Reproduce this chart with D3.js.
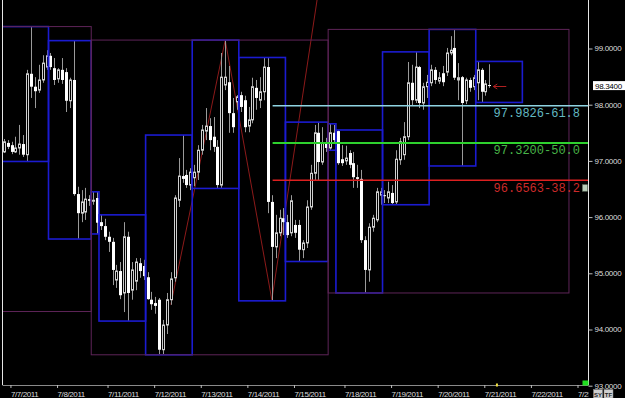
<!DOCTYPE html>
<html>
<head>
<meta charset="utf-8">
<script src="https://cdn.jsdelivr.net/npm/d3@7"></script>
<style>
body { margin: 0; background: #000; overflow: hidden; }
svg { display: block; }
</style>
</head>
<body>
<div id="chart"></div>
<script>
var width = 625;
var height = 398;

// trading days on the chart and how many 2-hour bars each one holds
var days = ["7/7/2011", "7/8/2011", "7/10/2011", "7/11/2011", "7/12/2011", "7/13/2011", "7/14/2011",
            "7/15/2011", "7/17/2011", "7/18/2011", "7/19/2011", "7/20/2011", "7/21/2011", "7/22/2011", "7/25/2011"];
var barsPerDay = [12, 11, 2, 12, 12, 12, 12, 11, 2, 12, 12, 12, 12, 12, 12];

// candles, one row per day
var open = [
  97.16, 97.32, 97.28, 97.16, 97.23, 97.30, 97.11, 98.55, 98.32, 98.26, 98.44, 98.67,
  98.87, 98.65, 98.46, 98.62, 98.58, 98.07, 98.44, 96.41, 96.07, 96.09, 96.32,
  96.29, 96.34,
  95.91, 95.84, 95.65, 95.56, 94.88, 95.04, 94.65, 95.65, 94.70, 94.86, 95.18, 95.13,
  94.93, 94.53, 94.47, 94.53, 93.64, 94.08, 94.53, 94.92, 96.30, 96.73, 96.75, 96.57,
  96.70, 96.80, 97.19, 97.53, 97.62, 97.43, 97.25, 96.57, 98.35, 98.40, 97.85, 98.05,
  98.17, 98.08, 97.62, 97.73, 98.30, 98.08, 98.23, 98.67, 96.27, 95.47, 95.72, 95.98,
  95.91, 95.72, 95.86, 95.86, 95.42, 95.54, 96.18, 96.78, 97.50, 96.98, 97.32,
  97.23, 97.50,
  97.53, 97.03, 97.00, 97.14, 96.96, 96.71, 96.68, 95.59, 95.06, 95.82, 95.95, 96.39,
  96.39, 96.34, 96.43, 96.27, 97.02, 97.11, 97.43, 98.39, 98.08, 98.67, 98.03, 98.32,
  98.39, 98.62, 98.42, 98.56, 98.58, 98.92, 99.01, 98.44, 98.49, 98.07, 98.44, 98.32,
  98.39, 98.62, 98.23, 98.35
];
var high = [
  97.39, 97.37, 97.34, 97.43, 97.64, 97.46, 98.62, 99.39, 98.49, 98.71, 98.88, 98.97,
  98.92, 98.83, 98.65, 98.83, 98.65, 98.48, 99.14, 96.54, 96.48, 96.52, 96.39,
  96.45, 96.45,
  96.04, 95.97, 95.74, 95.63, 95.15, 95.20, 95.91, 95.74, 95.20, 95.27, 95.27, 95.24,
  95.02, 94.67, 94.58, 94.56, 94.17, 94.65, 95.02, 96.39, 97.05, 97.46, 96.84, 96.87,
  96.93, 97.28, 97.64, 97.94, 97.76, 97.78, 97.37, 98.92, 99.15, 98.69, 98.12, 98.17,
  98.23, 98.16, 97.96, 98.48, 98.44, 98.49, 98.84, 98.83, 96.39, 96.04, 96.13, 96.16,
  96.04, 96.39, 95.95, 95.95, 95.59, 96.30, 96.93, 97.64, 97.69, 97.60, 97.41,
  97.66, 97.64,
  97.55, 97.28, 97.27, 97.19, 97.16, 96.93, 96.84, 95.66, 95.89, 96.04, 96.52, 96.52,
  96.48, 96.63, 96.57, 97.19, 97.41, 97.69, 98.76, 98.71, 98.94, 98.69, 98.39, 98.53,
  98.71, 98.67, 98.58, 98.69, 99.01, 99.22, 99.34, 98.74, 98.51, 98.48, 98.48, 98.53,
  98.77, 98.65, 98.44, 98.72
];
var low = [
  97.14, 97.21, 97.12, 97.14, 97.11, 97.07, 96.99, 98.12, 97.94, 98.21, 98.39, 98.62,
  98.62, 98.35, 98.39, 98.37, 97.87, 97.94, 96.38, 95.61, 95.91, 95.95, 96.20,
  96.22, 95.70,
  95.77, 95.59, 95.38, 94.79, 94.74, 94.54, 94.31, 94.15, 94.53, 94.70, 94.92, 94.88,
  94.53, 94.35, 94.28, 93.55, 93.56, 93.92, 94.44, 94.85, 96.18, 96.61, 96.52, 96.48,
  96.55, 96.66, 97.11, 97.37, 97.19, 97.16, 96.51, 96.52, 98.26, 97.50, 97.50, 97.91,
  97.87, 97.51, 97.51, 97.67, 97.91, 97.94, 98.08, 96.07, 94.51, 95.27, 95.66, 95.68,
  95.63, 95.66, 95.63, 95.21, 95.27, 95.45, 96.13, 96.66, 96.66, 96.93, 97.16,
  97.19, 97.32,
  96.93, 96.91, 96.93, 96.87, 96.52, 96.52, 95.54, 94.65, 94.85, 95.74, 95.91, 96.22,
  96.25, 96.25, 96.22, 96.22, 96.93, 97.02, 97.37, 97.99, 98.03, 97.94, 97.91, 98.12,
  98.33, 98.37, 98.37, 98.33, 98.51, 98.88, 98.44, 98.08, 96.91, 98.01, 98.23, 98.26,
  98.08, 98.04, 98.16, 98.30
];
var close = [
  97.34, 97.25, 97.16, 97.23, 97.30, 97.11, 98.55, 98.32, 98.24, 98.44, 98.74, 98.87,
  98.67, 98.44, 98.62, 98.44, 98.07, 98.44, 96.41, 96.07, 96.27, 96.32, 96.29,
  96.30, 95.90,
  95.84, 95.65, 95.56, 95.06, 95.04, 94.61, 95.65, 94.65, 95.06, 95.20, 95.04, 94.95,
  94.54, 94.45, 94.42, 93.64, 94.08, 94.53, 94.90, 96.34, 96.73, 96.68, 96.57, 96.80,
  96.80, 97.19, 97.55, 97.62, 97.37, 97.25, 96.57, 98.49, 98.49, 97.85, 97.60, 98.14,
  97.96, 97.60, 97.73, 98.32, 98.12, 98.23, 98.67, 96.27, 95.47, 95.72, 95.98, 95.91,
  95.68, 96.29, 95.72, 95.42, 95.54, 96.18, 96.78, 97.50, 96.98, 97.32, 97.23,
  97.50, 97.37,
  96.96, 96.96, 97.05, 96.93, 96.71, 96.68, 95.59, 95.06, 95.82, 95.98, 96.45, 96.45,
  96.38, 96.45, 96.25, 97.03, 97.34, 97.43, 98.39, 98.08, 98.67, 98.03, 98.32, 98.40,
  98.62, 98.44, 98.48, 98.40, 98.92, 98.97, 98.48, 98.48, 98.03, 98.44, 98.30, 98.48,
  98.62, 98.23, 98.37, 98.34
];

var priceTicks = [99, 98, 97, 96, 95, 94, 93];
var lastPrice = 98.34;

// weekly ranges (the first week started before the visible window)
var weekFirstDay = ["7/4/2011", "7/10/2011", "7/17/2011"];
var weekHigh = [99.39, 99.15, 99.34];
var weekLow = [94.32, 93.55, 94.65];

// zigzag swing points (bar index, price); the last one runs off the top
var zigBars = [43, 57, 69, 84];
var zigPrices = [94.44, 99.15, 94.53, 101.4];

// fibonacci levels drawn from the 7/14 low
var fibLevels = [97.9826, 97.3200, 96.6563];
var fibLabels = ["97.9826-61.8", "97.3200-50.0", "96.6563-38.2"];
var fibColors = ["#8fd4e2", "#2ed12e", "#dd2020"];
var fibTextColors = ["#63b9c2", "#48b448", "#cc2a2a"];
var fibStartBar = 69;

var dayStart = [];
var acc = 0;
for (let k = 0; k < days.length; k++) {
    dayStart.push(acc);
    acc += barsPerDay[k];
}

var plotRight = 588.5;
var plotBottom = 385;

var x = d3.scaleLinear().domain([0, 150]).range([1.9, 1.9 + 150 * 3.884]);
var y = d3.scaleLinear().domain([93, 99]).range([385.7, 48.5]);

var svg = d3.select("#chart").append("svg")
    .attr("width", width).attr("height", height)
    .style("background", "#000");

var defs = svg.append("defs");
defs.append("clipPath").attr("id", "plot")
    .append("rect").attr("x", 3).attr("y", 0)
    .attr("width", plotRight - 3).attr("height", plotBottom);
defs.append("clipPath").attr("id", "dateclip")
    .append("rect").attr("x", 0).attr("y", -2).attr("width", plotRight).attr("height", 20);

var plot = svg.append("g").attr("clip-path", "url(#plot)");

// zigzag sits behind the candles
var zig = d3.line()
    .x(function (d, k) { return x(zigBars[k] + 0.5); })
    .y(function (d) { return y(d); });
plot.append("path")
    .attr("d", zig(zigPrices))
    .attr("fill", "none")
    .attr("stroke", "#8c1a1a")
    .attr("stroke-width", 1);

// candles
var bars = d3.range(open.length).map(function (i) {
    return { i: i, o: open[i], h: high[i], l: low[i], c: close[i] };
});
function cx(i) { return Math.round(x(i + 0.5)) + 0.5; }

var candle = plot.append("g").selectAll("g").data(bars).enter().append("g");
candle.append("line")
    .attr("x1", function (d) { return cx(d.i); })
    .attr("x2", function (d) { return cx(d.i); })
    .attr("y1", function (d) { return y(d.h); })
    .attr("y2", function (d) { return y(d.l); })
    .attr("stroke", "#9a9a9a")
    .attr("stroke-width", 1);
candle.append("rect")
    .attr("x", function (d) { return d.c >= d.o ? cx(d.i) - 1 : cx(d.i) - 1.5; })
    .attr("width", function (d) { return d.c >= d.o ? 2 : 3; })
    .attr("y", function (d) { return y(Math.max(d.o, d.c)); })
    .attr("height", function (d) { return Math.max(1, Math.abs(y(d.o) - y(d.c))); })
    .attr("fill", function (d) { return d.c >= d.o ? "#000" : "#fff"; })
    .attr("stroke", function (d) { return d.c >= d.o ? "#cfcfcf" : "none"; })
    .attr("stroke-width", 1);

// daily range boxes
var dayBoxes = [];
for (let k = 0; k < days.length; k++) {
    let first = dayStart[k];
    let last = Math.min(first + barsPerDay[k], open.length);
    if (first >= open.length) break;
    dayBoxes.push({
        start: first,
        end: first + barsPerDay[k],
        hi: d3.max(high.slice(first, last)),
        lo: d3.min(low.slice(first, last))
    });
}
plot.append("g").selectAll("rect").data(dayBoxes).enter().append("rect")
    .attr("x", function (d) { return x(d.start); })
    .attr("width", function (d) { return x(d.end) - x(d.start); })
    .attr("y", function (d) { return y(d.hi); })
    .attr("height", function (d) { return y(d.lo) - y(d.hi); })
    .attr("fill", "none")
    .attr("stroke", "#1b1bd0")
    .attr("stroke-width", 1.6);

// weekly range boxes
var weekBoxes = weekFirstDay.map(function (day, k) {
    let idx = days.indexOf(day);
    let start = idx < 0 ? -60 : dayStart[idx];
    let endIdx = k + 1 < weekFirstDay.length ? days.indexOf(weekFirstDay[k + 1]) : days.indexOf("7/25/2011");
    return { start: start, end: dayStart[endIdx], hi: weekHigh[k], lo: weekLow[k] };
});
plot.append("g").selectAll("rect").data(weekBoxes).enter().append("rect")
    .attr("x", function (d) { return x(d.start); })
    .attr("width", function (d) { return x(d.end) - x(d.start); })
    .attr("y", function (d) { return y(d.hi); })
    .attr("height", function (d) { return y(d.lo) - y(d.hi); })
    .attr("fill", "none")
    .attr("stroke", "#5e2458")
    .attr("stroke-width", 1);

// fibonacci lines and labels
fibLevels.forEach(function (p, k) {
    plot.append("line")
        .attr("x1", x(fibStartBar + 0.7)).attr("x2", plotRight)
        .attr("y1", y(p)).attr("y2", y(p))
        .attr("stroke", fibColors[k])
        .attr("stroke-width", k == 1 ? 2 : 1.5);
    plot.append("text")
        .attr("x", 580).attr("y", y(p) + 11.5)
        .attr("text-anchor", "end")
        .attr("fill", fibTextColors[k])
        .style("font-family", "Liberation Mono")
        .style("font-size", "12px")
        .text(fibLabels[k]);
});

// little marker box at the end of the 38.2 label
svg.append("rect")
    .attr("x", 582.5).attr("y", y(fibLevels[2]) + 4.5)
    .attr("width", 5).attr("height", 6.5)
    .attr("fill", "#b9cdb9").attr("stroke", "#6b7d6b").attr("stroke-width", 0.6);

// arrow at the current bar
var arrowY = Math.round(y(lastPrice)) + 0.5;
var ax = x(open.length) + 2;
plot.append("path")
    .attr("d", "M" + ax + "," + arrowY + "L" + (ax + 13) + "," + arrowY +
               "M" + ax + "," + arrowY + "l4,-2.5M" + ax + "," + arrowY + "l4,2.5")
    .attr("stroke", "#b02020").attr("stroke-width", 1).attr("fill", "none");

// frame
svg.append("line").attr("x1", 2.5).attr("x2", 2.5).attr("y1", 0).attr("y2", plotBottom)
    .attr("stroke", "#e6e6e6").attr("stroke-width", 1);
svg.append("line").attr("x1", plotRight).attr("x2", plotRight).attr("y1", 0).attr("y2", plotBottom)
    .attr("stroke", "#e6e6e6").attr("stroke-width", 1);
svg.append("line").attr("x1", 2.5).attr("x2", plotRight).attr("y1", plotBottom + 0.5).attr("y2", plotBottom + 0.5)
    .attr("stroke", "#8a8a8a").attr("stroke-width", 1);

// price axis
var yAxis = svg.append("g")
    .attr("transform", "translate(" + plotRight + ",0)")
    .call(d3.axisRight(y).tickValues(priceTicks).tickSize(4).tickPadding(2)
        .tickFormat(d3.format(".4f")));
yAxis.select(".domain").remove();
yAxis.selectAll("line").attr("stroke", "#bdbdbd");
yAxis.selectAll("text")
    .attr("dy", "0.3em")
    .attr("fill", "#dcdcdc")
    .style("font-family", "Liberation Sans")
    .style("font-size", "8px")
    .style("letter-spacing", "-0.3px");

// current price tag
svg.append("rect").attr("x", 593).attr("y", y(lastPrice) - 4.5)
    .attr("width", 32).attr("height", 9).attr("fill", "#fff");
svg.append("text").attr("x", 595).attr("y", y(lastPrice) + 3)
    .attr("fill", "#000")
    .style("font-family", "Liberation Sans").style("font-size", "8px")
    .style("letter-spacing", "-0.3px")
    .text(d3.format(".4f")(lastPrice));

// date axis (short Sunday sessions get no label)
var labelIdx = d3.range(days.length).filter(function (k) { return barsPerDay[k] > 2; });
var dateAxis = svg.append("g")
    .attr("transform", "translate(0," + plotBottom + ")")
    .attr("clip-path", "url(#dateclip)");
dateAxis.call(d3.axisBottom(x)
    .tickValues(labelIdx.map(function (k) { return dayStart[k] + 2.2; }))
    .tickSize(3).tickPadding(3)
    .tickFormat(function (d, j) { return days[labelIdx[j]]; }));
dateAxis.select(".domain").remove();
dateAxis.selectAll("line").attr("stroke", "#bdbdbd");
dateAxis.selectAll("text")
    .attr("text-anchor", "start")
    .attr("x", 0)
    .attr("fill", "#dcdcdc")
    .style("font-family", "Liberation Sans")
    .style("font-size", "8px")
    .style("letter-spacing", "-0.4px");

// the last date runs into the price scale: cut it the way the terminal does
dateAxis.selectAll(".tick").each(function (d) {
    var t = d3.select(this).select("text");
    var full = t.text();
    var n = full.length;
    while (n > 3 && x(d) + t.node().getComputedTextLength() > plotRight + 3) {
        n--;
        t.text(full.slice(0, n));
    }
});

// current time marker on the date axis and the status square
svg.append("rect").attr("x", x(open.length + 1.2)).attr("y", plotBottom - 1.5)
    .attr("width", 2).attr("height", 3).attr("fill", "#f0e040");
svg.append("rect").attr("x", 582.5).attr("y", 380.5).attr("width", 6).attr("height", 5)
    .attr("fill", "#20e020");

// SY / TF buttons
["SY", "TF"].forEach(function (t, k) {
    svg.append("rect").attr("x", 593.5 + k * 10.5).attr("y", 389.5)
        .attr("width", 9).attr("height", 8.5)
        .attr("fill", "#cfcfcf").attr("stroke", "#888").attr("stroke-width", 0.5);
    svg.append("text").attr("x", 598 + k * 10.5).attr("y", 396.8)
        .attr("text-anchor", "middle").attr("fill", "#222")
        .style("font-family", "Liberation Sans").style("font-size", "6px").style("font-weight", "bold")
        .text(t);
});
</script>
</body>
</html>
